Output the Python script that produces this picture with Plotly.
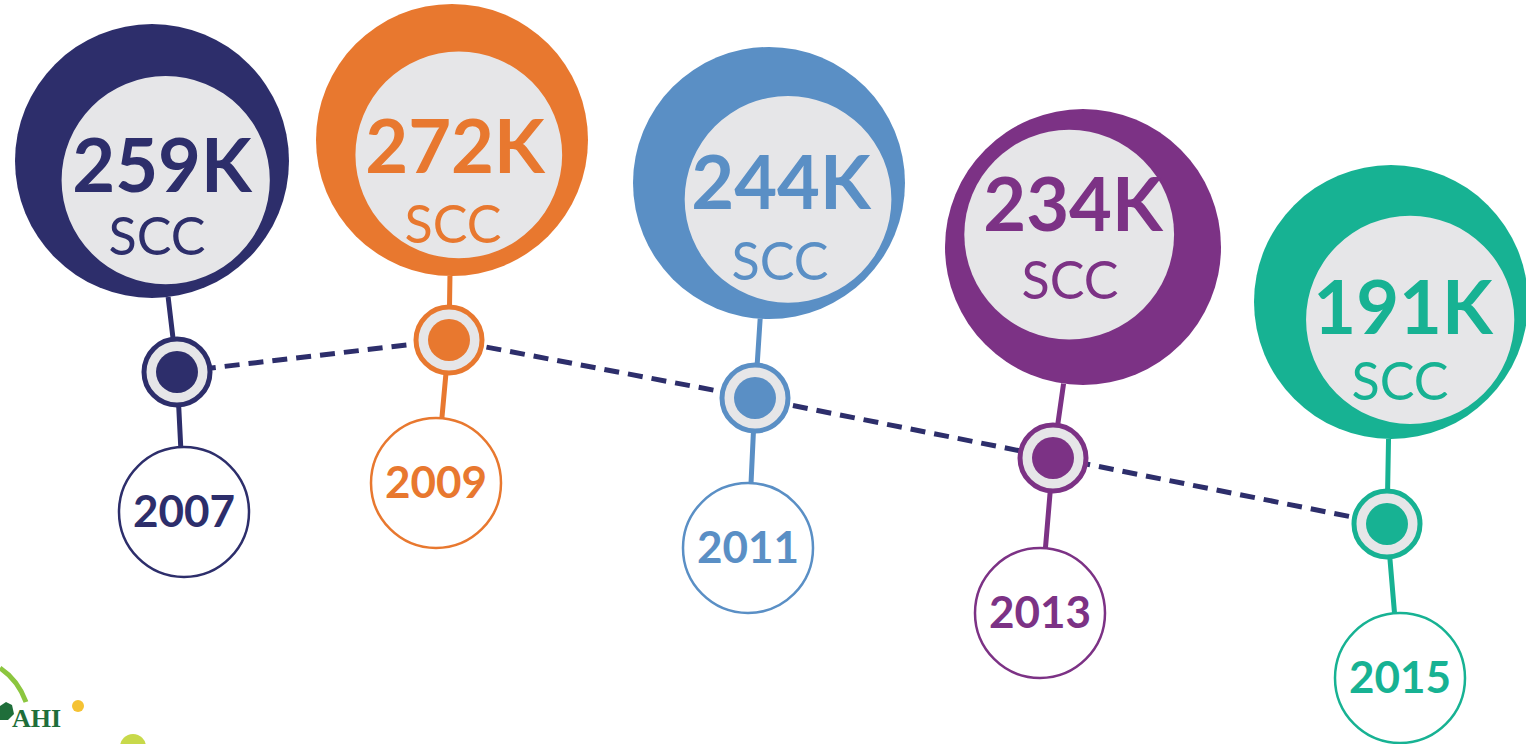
import math
import plotly.graph_objects as go

# ---------------- data ----------------
years = ["2007", "2009", "2011", "2013", "2015"]
scc_thousands = [259, 272, 244, 234, 191]
unit_label = "SCC"

# ---------------- styles ----------------
colors = ["#2d2e6b", "#e8782f", "#5a8fc5", "#7c3285", "#17b293"]
ring_gray = "#e6e6e8"
dash_color = "#2d2e6b"
font_family = "Lato, 'Open Sans', sans-serif"

# ---------------- layout (pixel space of the infographic) ----------------
big_cx = [152, 452, 769, 1083, 1391]
big_cy = [161, 140, 183, 247, 302]
big_r = [137, 136, 136, 138, 137]
inner_dx = [0.10, 0.05, 0.14, -0.10, 0.14]
inner_dy = [0.14, 0.11, 0.12, -0.09, 0.13]
inner_ratio = 0.76
marker_x = [177, 449, 755, 1053, 1387]
marker_y = [372, 340, 398, 458, 524]
year_cx = [184, 436, 748, 1040, 1400]
year_cy = [512, 483, 548, 613, 678]
year_r = 65
# visual centres of the texts inside the big circles
value_tx = [162, 455, 781, 1073, 1403]
value_ty = [164, 145, 181, 203, 306]
unit_tx = [157, 453, 780, 1070, 1400]
unit_ty = [235, 223, 260, 279, 380]

W, H = 1526, 744

fig = go.Figure()
shapes = []

for i in range(len(years)):
    R = big_r[i]
    cx, cy = big_cx[i], big_cy[i]
    shapes.append(dict(type="circle", xref="x", yref="y", layer="below",
                       x0=cx - R, x1=cx + R, y0=cy - R, y1=cy + R,
                       fillcolor=colors[i], line=dict(width=0)))
    ir = R * inner_ratio
    icx = cx + inner_dx[i] * R
    icy = cy + inner_dy[i] * R
    shapes.append(dict(type="circle", xref="x", yref="y", layer="below",
                       x0=icx - ir, x1=icx + ir, y0=icy - ir, y1=icy + ir,
                       fillcolor=ring_gray, line=dict(width=0)))
    shapes.append(dict(type="circle", xref="x", yref="y", layer="below",
                       x0=year_cx[i] - year_r, x1=year_cx[i] + year_r,
                       y0=year_cy[i] - year_r, y1=year_cy[i] + year_r,
                       fillcolor="white", line=dict(color=colors[i], width=2.5)))

# stems
for i in range(len(years)):
    mx, my = marker_x[i], marker_y[i]
    bx, by, R = big_cx[i], big_cy[i], big_r[i]
    d = math.hypot(mx - bx, my - by)
    tx, ty = bx + R * (mx - bx) / d, by + R * (my - by) / d
    yx, yy = year_cx[i], year_cy[i]
    d2 = math.hypot(mx - yx, my - yy)
    px, py = yx + year_r * (mx - yx) / d2, yy + year_r * (my - yy) / d2
    fig.add_trace(go.Scatter(x=[tx, mx, px], y=[ty, my, py], mode="lines",
                             line=dict(color=colors[i], width=5),
                             hoverinfo="skip", showlegend=False))

# dashed trend line
fig.add_trace(go.Scatter(x=marker_x, y=marker_y, mode="lines",
                         line=dict(color=dash_color, width=5, dash="15px,9px"),
                         hoverinfo="skip", showlegend=False))

# markers on the line
fig.add_trace(go.Scatter(x=marker_x, y=marker_y, mode="markers",
                         marker=dict(size=66, color=ring_gray,
                                     line=dict(color=colors, width=5)),
                         hoverinfo="skip", showlegend=False))
fig.add_trace(go.Scatter(x=marker_x, y=marker_y, mode="markers",
                         marker=dict(size=42, color=colors, line=dict(width=0)),
                         hoverinfo="skip", showlegend=False))

# texts (plotly's "middle" sits a few px below the glyph centre -> small shift)
VAL_SHIFT, UNIT_SHIFT, YEAR_SHIFT = 9, 7, 4
fig.add_trace(go.Scatter(x=value_tx, y=[v + VAL_SHIFT for v in value_ty], mode="text",
                         text=[f"<b>{v}K</b>" for v in scc_thousands],
                         textposition="middle center",
                         textfont=dict(family=font_family, size=74, color=colors),
                         hoverinfo="skip", showlegend=False))
fig.add_trace(go.Scatter(x=unit_tx, y=[v + UNIT_SHIFT for v in unit_ty], mode="text",
                         text=[unit_label] * len(years),
                         textposition="middle center",
                         textfont=dict(family=font_family, size=52, color=colors),
                         hoverinfo="skip", showlegend=False))
fig.add_trace(go.Scatter(x=year_cx, y=[v + YEAR_SHIFT for v in year_cy], mode="text",
                         text=[f"<b>{y}</b>" for y in years],
                         textposition="middle center",
                         textfont=dict(family=font_family, size=44, color=colors),
                         hoverinfo="skip", showlegend=False))

# partial logo at the bottom-left
shapes.append(dict(type="path", xref="x", yref="y", layer="below",
                   path="M 0 668 Q 18 680 26 702",
                   line=dict(color="#8cc63f", width=5)))
shapes.append(dict(type="circle", xref="x", yref="y", layer="above",
                   x0=72, x1=84, y0=700, y1=712,
                   fillcolor="#f5c233", line=dict(width=0)))
shapes.append(dict(type="circle", xref="x", yref="y", layer="below",
                   x0=120, x1=146, y0=734, y1=760,
                   fillcolor="#c8d94a", line=dict(width=0)))
shapes.append(dict(type="path", xref="x", yref="y", layer="below",
                   path="M 0 706 L 6 702 L 12 705 L 14 714 L 8 720 L 0 720 Z",
                   fillcolor="#1f6e3a", line=dict(width=0)))

annotations = [dict(x=10, y=702, xref="x", yref="y", xanchor="left", yanchor="top",
                    text="<b>AHI</b>", showarrow=False,
                    font=dict(family="Liberation Serif, serif", size=26, color="#1f6e3a"))]

fig.update_layout(
    width=W, height=H,
    margin=dict(l=0, r=0, t=0, b=0),
    paper_bgcolor="white", plot_bgcolor="white",
    xaxis=dict(range=[0, W], visible=False, fixedrange=True),
    yaxis=dict(range=[H, 0], visible=False, fixedrange=True),
    shapes=shapes, annotations=annotations,
    showlegend=False,
)

fig.write_html("out.html", config={"displayModeBar": False},
               post_script="document.body.style.margin='0';document.body.style.overflow='hidden';")
